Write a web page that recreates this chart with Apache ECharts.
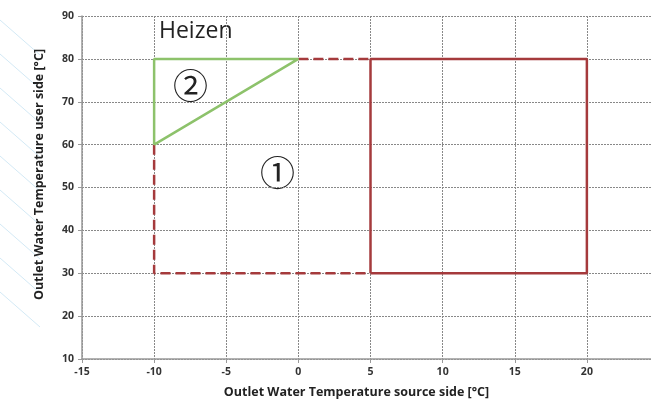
<!DOCTYPE html>
<html>
<head>
<meta charset="utf-8">
<script src="https://cdn.jsdelivr.net/npm/echarts@6/dist/echarts.min.js"></script>
<style>
  html, body { margin: 0; padding: 0; background: #fff; }
  #chart { width: 651px; height: 412px; }
</style>
</head>
<body>
<div id="chart"></div>
<script>
// operating envelope corners [source temp, user temp]
var heatTriangle = [[-10, 60], [-10, 80], [0, 80], [-10, 60]];
var dashedLow = [[-10, 60], [-10, 30], [5, 30]];
var dashedTop = [[0, 80], [5, 80]];
var mainBox = [[5, 30], [5, 80], [20, 80], [20, 30], [5, 30]];
var xTicks = [-15, -10, -5, 0, 5, 10, 15, 20];
var yTicks = [10, 20, 30, 40, 50, 60, 70, 80, 90];

var green = "#8dc26b";
var red = "#a53a3c";
var labelFont = "Open Sans";

var chart = echarts.init(document.getElementById("chart"));

// faint diagonal stripes of the page background
var stripes = [];
for (var i = 0; i < 9; i++) {
    stripes.push({
        type: "line",
        shape: { x1: 0, y1: 20 + i * 34, x2: 40, y2: 55 + i * 34 },
        style: { stroke: "#d3e9f5", lineWidth: 1 },
        z: -1
    });
}

chart.setOption({
    animation: false,
    backgroundColor: "#fff",
    grid: { left: 82, right: -8, top: 16, bottom: 53, outerBoundsMode: "none", containLabel: false },
    xAxis: {
        type: "value",
        min: -15,
        max: 25,
        interval: 5,
        axisLine: { show: true, onZero: false, lineStyle: { color: "#999", width: 1.5 } },
        axisTick: { show: true, length: 4, lineStyle: { color: "#999" } },
        axisLabel: {
            color: "#333", fontSize: 10.5, fontWeight: "bold", fontFamily: labelFont,
            margin: 8,
            formatter: function (v) { return xTicks.indexOf(v) >= 0 ? String(v) : ""; }
        },
        splitLine: { show: true, lineStyle: { color: "#888", type: [2, 1], width: 1 } },
        name: "Outlet Water Temperature source side [°C]",
        nameLocation: "middle",
        nameGap: 27,
        nameTextStyle: { color: "#222", fontSize: 12.5, fontWeight: "bold", fontFamily: labelFont, padding: [0, 28, 0, 0] }
    },
    yAxis: {
        type: "value",
        min: 10,
        max: 90,
        interval: 10,
        axisLine: { show: true, onZero: false, lineStyle: { color: "#999", width: 1.5 } },
        axisTick: { show: true, length: 4, lineStyle: { color: "#999" } },
        axisLabel: {
            color: "#333", fontSize: 10.5, fontWeight: "bold", fontFamily: labelFont,
            margin: 8,
            formatter: function (v) { return yTicks.indexOf(v) >= 0 ? String(v) : ""; }
        },
        splitLine: { show: true, lineStyle: { color: "#888", type: [2, 1], width: 1 } },
        name: "Outlet Water Temperature user side [°C]",
        nameLocation: "middle",
        nameGap: 36,
        nameTextStyle: { color: "#222", fontSize: 12.5, fontWeight: "bold", fontFamily: labelFont, padding: [0, 0, 0, 26] }
    },
    graphic: stripes.concat([
        { type: "text", left: 159, top: 20, style: { text: "Heizen", fontSize: 23, fontFamily: "Open Sans", fill: "#222" } },
        { type: "text", left: 173, top: 68, style: { text: "②", fontSize: 35, fontFamily: "Noto Sans CJK JP", fill: "#222" } },
        { type: "text", left: 260, top: 155, style: { text: "①", fontSize: 35, fontFamily: "Noto Sans CJK JP", fill: "#222" } }
    ]),
    series: [
        {
            type: "line", data: dashedLow, symbol: "none", z: 3,
            lineStyle: { color: red, width: 2.5, type: [10, 5] }
        },
        {
            type: "line", data: dashedTop, symbol: "none", z: 3,
            lineStyle: { color: red, width: 2.5, type: [10, 5] }
        },
        {
            type: "line", data: mainBox, symbol: "none", z: 4,
            lineStyle: { color: red, width: 2.5 }
        },
        {
            type: "line", data: heatTriangle, symbol: "none", z: 5,
            lineStyle: { color: green, width: 2.5 }
        }
    ]
});
</script>
</body>
</html>
